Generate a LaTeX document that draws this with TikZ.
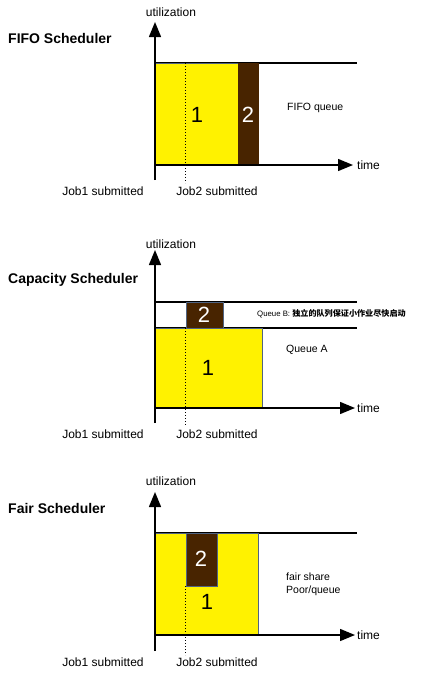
\documentclass[tikz,border=0pt]{standalone}
\usepackage{fontspec}
\setmainfont{Liberation Sans}
\newfontfamily\cjk{Noto Sans CJK SC}
\usetikzlibrary{arrows.meta}
\definecolor{jobbrown}{RGB}{72,36,0}
\definecolor{jobedge}{RGB}{80,100,130}
\tikzset{
  axisline/.style={line width=1.4pt,-{Triangle[length=15pt,width=12pt]}},
  hline/.style={line width=1.2pt},
  jobone/.style={fill=yellow,draw=jobedge,line width=1pt},
  jobtwo/.style={fill=jobbrown,draw=jobedge,line width=1pt},
  subline/.style={dotted,line width=1pt},
  bignum/.style={inner sep=0pt,font=\fontsize{22}{22}\selectfont},
  lbl/.style={inner sep=0pt,font=\fontsize{12}{12}\selectfont},
  small/.style={inner sep=0pt,font=\fontsize{10.5}{12.5}\selectfont,align=left},
  title/.style={inner sep=0pt,anchor=west,font=\fontsize{14}{14}\selectfont\bfseries},
}
\begin{document}
\begin{tikzpicture}[x=1pt,y=-1pt]
\useasboundingbox (0,0) rectangle (435,673);
% ---------- FIFO ----------
\draw[hline] (155,63) -- (357,63);
\draw[jobone] (155,63) rectangle (238,165);
\draw[fill=jobbrown,draw=jobbrown] (238,63) rectangle (258,165);
\draw[subline] (185,63) -- (185,183);
\draw[axisline] (155,165) -- (353,165);
\draw[axisline] (155,180) -- (155,22);
\node[lbl] (u1) at (171,12) {utilization};
\node[title] (t1) at (8,38) {FIFO Scheduler};
\node[bignum] (n11) at (197,115) {1};
\node[bignum,text=white] (n12) at (248,115) {2};
\node[small,anchor=west] (q1) at (287,108) {FIFO queue};
\node[lbl,anchor=west] (time1) at (357,165) {time};
\node[lbl] (j11) at (103,191) {Job1 submitted};
\node[lbl] (j12) at (217,191) {Job2 submitted};
% ---------- Capacity ----------
\draw[hline] (155,302) -- (357,302);
\draw[hline] (155,328) -- (357,328);
\draw[jobtwo] (186,302) rectangle (223,328);
\draw[jobone] (155,328) rectangle (262,408);
\draw[subline] (185,328) -- (185,426);
\draw[axisline] (155,408) -- (355,408);
\draw[axisline] (155,423) -- (155,250);
\node[lbl] (u2) at (171,244) {utilization};
\node[title] (t2) at (8,280) {Capacity Scheduler};
\node[bignum] (n21) at (208,368) {1};
\node[bignum,text=white] (n22) at (204,315) {2};
\node[inner sep=0pt,anchor=west] (qb) at (257,314) {\fontsize{7.8}{9}\selectfont Queue B: \cjk\bfseries\fontsize{8.1}{9}\selectfont 独立的队列保证小作业尽快启动};
\node[small,anchor=west] (qa) at (286,350) {Queue A};
\node[lbl,anchor=west] (time2) at (357,408) {time};
\node[lbl] (j21) at (103,434) {Job1 submitted};
\node[lbl] (j22) at (217,434) {Job2 submitted};
% ---------- Fair ----------
\draw[hline] (155,533) -- (357,533);
\draw[jobone] (155,533) rectangle (258,635);
\draw[jobtwo] (186,533) rectangle (217,586);
\draw[subline] (185,586) -- (185,655);
\draw[axisline] (155,635) -- (355,635);
\draw[axisline] (155,651) -- (155,492);
\node[lbl] (u3) at (171,481) {utilization};
\node[title] (t3) at (8,508) {Fair Scheduler};
\node[bignum] (n31) at (207,602) {1};
\node[bignum,text=white] (n32) at (201,559) {2};
\node[small,anchor=north west] (fs) at (286,573) {fair share\\Poor/queue};
\node[lbl,anchor=west] (time3) at (357,635) {time};
\node[lbl] (j31) at (103,662) {Job1 submitted};
\node[lbl] (j32) at (217,662) {Job2 submitted};
\end{tikzpicture}
\end{document}
